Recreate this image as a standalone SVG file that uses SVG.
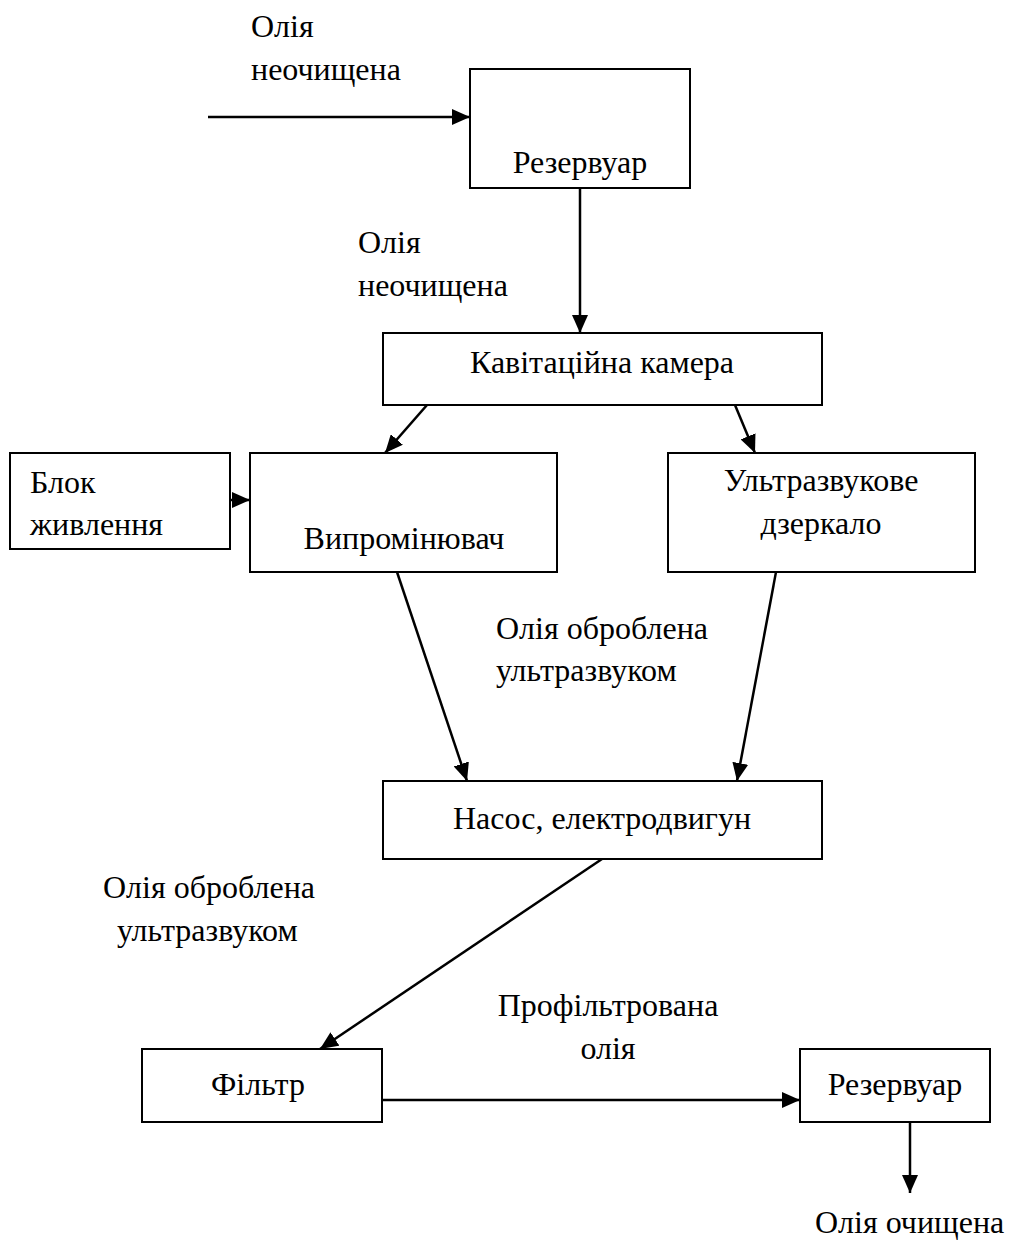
<svg xmlns="http://www.w3.org/2000/svg" width="1019" height="1241" viewBox="0 0 1019 1241">
<style>
.box{fill:#fff;stroke:#000;stroke-width:2}
.t{font-family:"Liberation Serif","Times New Roman",serif;font-size:32px;fill:#000}
.c{text-anchor:middle}
.ln{stroke:#000;stroke-width:2.5;fill:none;marker-end:url(#ah)}
</style>
<defs>
<marker id="ah" markerWidth="18" markerHeight="16" refX="18" refY="8" orient="auto" markerUnits="userSpaceOnUse">
<path d="M0,0 L18,8 L0,16 Z" fill="#000"/>
</marker>
</defs>
<rect width="1019" height="1241" fill="#fff"/>
<g id="connectors">
<line class="ln" x1="208" y1="117" x2="470" y2="117"/>
<line class="ln" x1="580" y1="188" x2="580" y2="333"/>
<line class="ln" x1="427" y1="405" x2="385" y2="453"/>
<line class="ln" x1="735" y1="405" x2="755" y2="453"/>
<line class="ln" x1="230" y1="500" x2="250" y2="500"/>
<line class="ln" x1="397" y1="572" x2="467" y2="781"/>
<line class="ln" x1="776" y1="572" x2="737" y2="781"/>
<line class="ln" x1="602" y1="859" x2="320" y2="1049"/>
<line class="ln" x1="382" y1="1100" x2="800" y2="1100"/>
<line class="ln" x1="910" y1="1122" x2="910" y2="1193"/>
</g>
<g id="labels">
<text class="t" x="251" y="37">Олія</text>
<text class="t" x="251" y="80">неочищена</text>
<text class="t" x="358" y="253">Олія</text>
<text class="t" x="358" y="296">неочищена</text>
<text class="t" x="496" y="639">Олія оброблена</text>
<text class="t" x="496" y="681">ультразвуком</text>
<text class="t" x="103" y="898">Олія оброблена</text>
<text class="t" x="117" y="941">ультразвуком</text>
<text class="t c" x="608" y="1016">Профільтрована</text>
<text class="t c" x="608" y="1059">олія</text>
<text class="t" x="815" y="1233">Олія очищена</text>
</g>
<g id="reservoir1"><rect class="box" x="470" y="69" width="220" height="119"/><text class="t c" x="580" y="173">Резервуар</text></g>
<g id="cavitation"><rect class="box" x="383" y="333" width="439" height="72"/><text class="t c" x="602" y="373">Кавітаційна камера</text></g>
<g id="power"><rect class="box" x="10" y="453" width="220" height="96"/><text class="t" x="30" y="493">Блок</text><text class="t" x="30" y="535">живлення</text></g>
<g id="emitter"><rect class="box" x="250" y="453" width="307" height="119"/><text class="t c" x="404" y="549">Випромінювач</text></g>
<g id="mirror"><rect class="box" x="668" y="453" width="307" height="119"/><text class="t c" x="821" y="491">Ультразвукове</text><text class="t c" x="821" y="534">дзеркало</text></g>
<g id="pump"><rect class="box" x="383" y="781" width="439" height="78"/><text class="t c" x="602" y="829">Насос, електродвигун</text></g>
<g id="filter"><rect class="box" x="142" y="1049" width="240" height="73"/><text class="t c" x="258" y="1095">Фільтр</text></g>
<g id="reservoir2"><rect class="box" x="800" y="1049" width="190" height="73"/><text class="t c" x="895" y="1095">Резервуар</text></g>
</svg>
